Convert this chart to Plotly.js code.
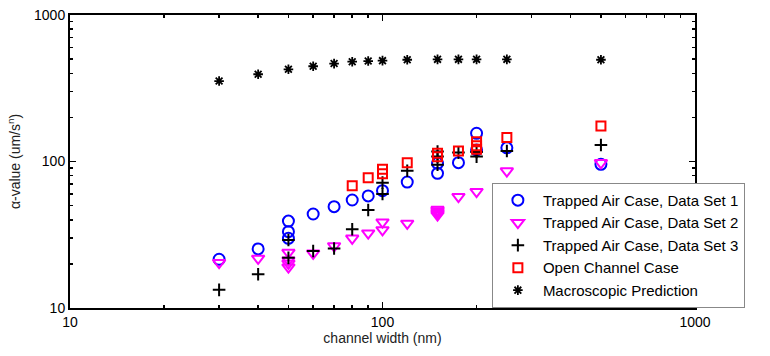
<html>
<head>
    <script src="https://cdn.plot.ly/plotly-3.0.1.min.js"></script>
    <style>
        body { margin: 0; padding: 0; background: white; }
        #chart { width: 770px; height: 356px; }
    </style>
</head>
<body>
    <div id="chart"></div>
    <script>
        // channel width (nm) and alpha values (um/s^n)
        const set1X = [30, 40, 50, 50, 50, 60, 70, 80, 90, 100, 120, 150, 150, 175, 200, 200, 250, 500];
        const set1Y = [21.5, 25.3, 39.2, 33.2, 29.9, 43.8, 49.2, 54.6, 58.2, 63.2, 72.4, 83.0, 97.2, 98.2, 155.8, 120, 124, 95.7];

        const set2X = [30, 40, 50, 50, 50, 50, 60, 70, 80, 90, 100, 100, 120, 150, 150, 150, 150, 150, 175, 200, 250, 500];
        const set2Y = [20.4, 21.8, 23.9, 21.2, 20.2, 19.0, 23.6, 26.5, 29.9, 32.4, 38.5, 34.1, 37.8, 47, 46, 45, 44, 43, 57.5, 62.2, 86.1, 98];

        const set3X = [30, 40, 50, 50, 60, 70, 80, 90, 100, 100, 120, 150, 150, 150, 175, 200, 200, 250, 500];
        const set3Y = [13.3, 17.0, 29.1, 22.0, 24.5, 25.5, 34.5, 46.7, 71.7, 60.0, 86.5, 117, 108, 95, 115, 108, 116, 118, 129.6];

        const openX = [80, 90, 100, 100, 120, 150, 150, 175, 200, 200, 200, 250, 500];
        const openY = [68.4, 77.5, 88.5, 82.5, 98, 113.7, 107.8, 118, 136.5, 128, 121, 146, 174.8];

        const macroX = [30, 40, 50, 60, 70, 80, 90, 100, 120, 150, 175, 200, 250, 500];
        const macroY = [354, 394, 426, 447, 466, 480, 485, 488, 495, 498, 498, 498, 498, 495];

        const majorTicks = [10, 100, 1000];
        const minorTicks = [20, 30, 40, 50, 60, 70, 80, 90, 200, 300, 400, 500, 600, 700, 800, 900];

        const data = [
            {
                x: set1X, y: set1Y, type: 'scatter', mode: 'markers',
                name: 'Trapped Air Case, Data Set 1',
                marker: { symbol: 'circle-open', size: 11, color: '#0000ff', line: { width: 2 } }
            },
            {
                x: set2X, y: set2Y, type: 'scatter', mode: 'markers',
                name: 'Trapped Air Case, Data Set 2',
                marker: { symbol: 'triangle-down-open', size: 11, color: '#ff00ff', line: { width: 2 } }
            },
            {
                x: set3X, y: set3Y, type: 'scatter', mode: 'markers',
                name: 'Trapped Air Case, Data Set 3',
                marker: { symbol: 'cross-thin-open', size: 9, color: '#000000', line: { width: 2 } }
            },
            {
                x: openX, y: openY, type: 'scatter', mode: 'markers',
                name: 'Open Channel Case',
                marker: { symbol: 'square-open', size: 9, color: '#ff0000', line: { width: 2 } }
            },
            {
                x: macroX, y: macroY, type: 'scatter', mode: 'markers',
                name: 'Macroscopic Prediction',
                marker: { symbol: 'asterisk-open', size: 8, color: '#000000', line: { width: 1.8 } }
            }
        ];

        const axisCommon = {
            type: 'log',
            showline: true,
            linecolor: '#000',
            linewidth: 2,
            mirror: 'ticks',
            ticks: 'inside',
            ticklen: 6,
            tickwidth: 1.5,
            tickcolor: '#000',
            showgrid: false,
            zeroline: false,
            tickvals: majorTicks,
            ticktext: majorTicks.map(String),
            tickfont: { family: 'Liberation Sans, Arial', size: 14, color: '#000' },
            minor: { tickmode: 'array', tickvals: minorTicks, ticks: 'inside', ticklen: 3, tickwidth: 1.5, tickcolor: '#000', showgrid: false }
        };

        const layout = {
            width: 770,
            height: 356,
            margin: { l: 70, r: 75, t: 15, b: 48 },
            paper_bgcolor: 'white',
            plot_bgcolor: 'white',
            showlegend: true,
            legend: {
                x: 0.675, y: 0.427, xanchor: 'left', yanchor: 'top',
                bgcolor: 'white', bordercolor: '#888', borderwidth: 1,
                font: { family: 'Liberation Sans, Arial', size: 15, color: '#000' },
                tracegroupgap: 0, itemwidth: 40
            },
            xaxis: Object.assign({}, axisCommon, {
                range: [1, 3],
                title: { text: 'channel width (nm)', font: { family: 'Liberation Sans, Arial', size: 14, color: '#222' }, standoff: 4 }
            }),
            yaxis: Object.assign({}, axisCommon, {
                range: [1, 3],
                title: { text: 'α-value (um/s<sup>n</sup>)', font: { family: 'Liberation Sans, Arial', size: 14, color: '#222' }, standoff: 10 }
            })
        };

        Plotly.newPlot('chart', data, layout, { displayModeBar: false, staticPlot: true });
    </script>
</body>
</html>
